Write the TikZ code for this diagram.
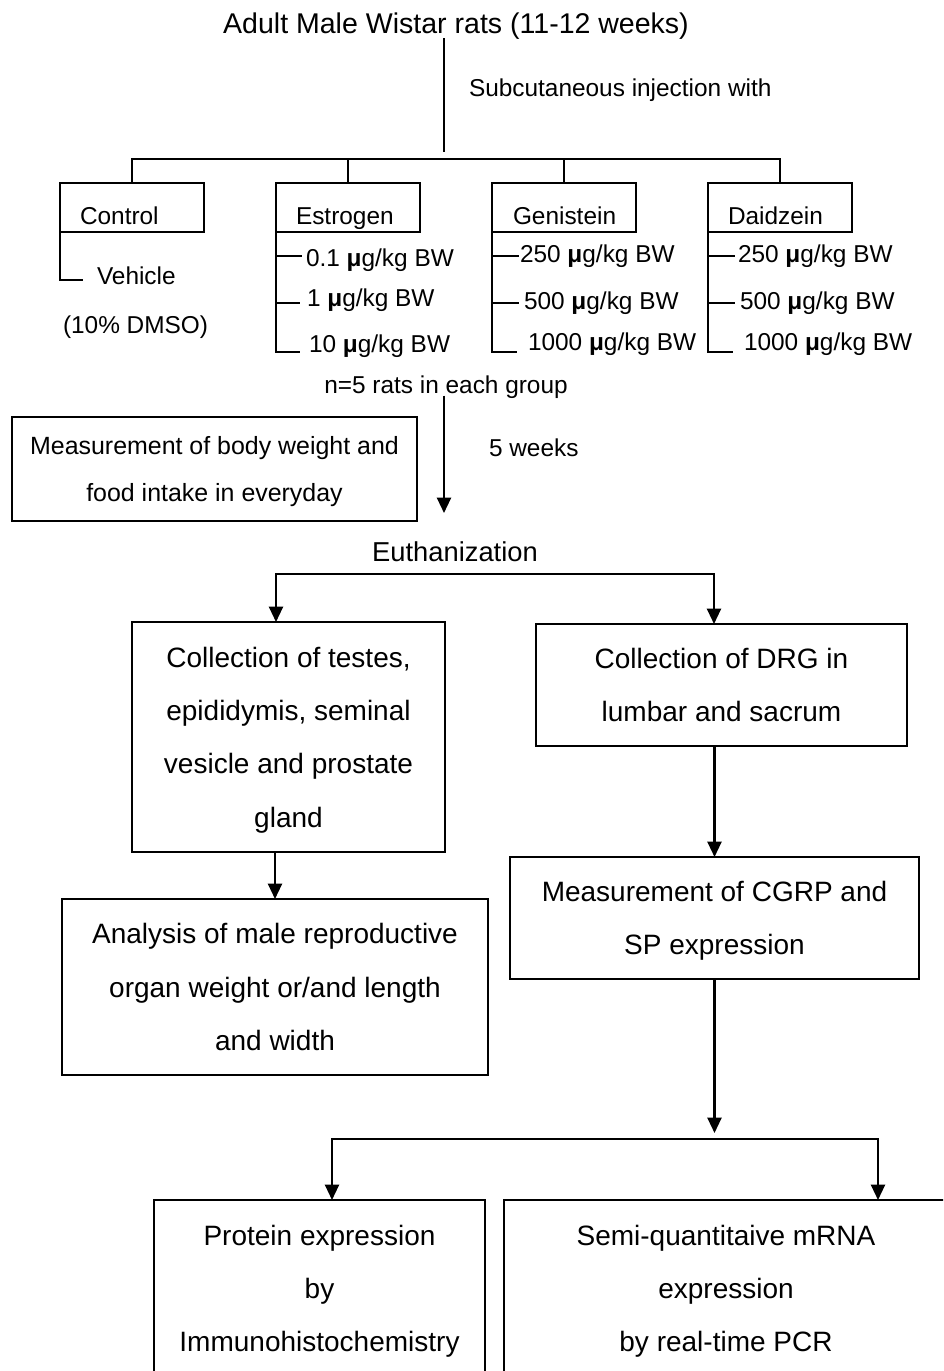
\documentclass[tikz,border=0pt]{standalone}
\usepackage{fontspec}
\setmainfont{Liberation Sans}
\usetikzlibrary{arrows.meta}
\newcommand{\szTitle}{\fontsize{21.4}{25}\selectfont}
\newcommand{\szGrp}{\fontsize{18.3}{22}\selectfont}
\newcommand{\szMeas}{\fontsize{18.7}{35}\selectfont}
\newcommand{\szBig}{\fontsize{21}{40}\selectfont}
\newcommand{\szEuth}{\fontsize{20.5}{24}\selectfont}
\newcommand{\mug}{{\bfseries μ}g/kg BW}
\newcommand{\bst}{\rule[-5pt]{0pt}{25pt}}
\newcommand{\mst}{\rule[-5pt]{0pt}{23.4pt}}
\begin{document}
\begin{tikzpicture}[x=0.75pt,y=-0.75pt,
  thinline/.style={line width=1.1pt},
  lbl/.style={inner sep=0pt, outer sep=0pt, text height=13pt, text depth=0pt, font=\szGrp},
  grp/.style={draw, line width=1.1pt, inner sep=0pt, outer sep=0pt, minimum width=108pt, minimum height=36.75pt},
  box/.style={draw, line width=1.5pt, inner sep=0pt, outer sep=0pt, align=center, font=\szBig},
  arr/.style={line width=1.6pt, -{Triangle[length=11.5pt,width=10.5pt]}}]
\useasboundingbox (0,0) rectangle (943,1371);
\clip (0,0) rectangle (943,1371);

% title and stem
\node[font=\szTitle, inner sep=0pt, inner ysep=3.5pt, text height=15.3pt, text depth=0pt] (title) at (456,23) {Adult Male Wistar rats (11-12 weeks)};
\coordinate (stem) at (444,152);
\draw[thinline] (title.south -| stem) -- (stem);
\node[lbl, anchor=west] (sub) at (469,88) {Subcutaneous injection with};

% group boxes
\node[grp] (ctl) at (132,207.5) {};
\node[grp] (est) at (348,207.5) {};
\node[grp] (gen) at (564,207.5) {};
\node[grp] (dai) at (780,207.5) {};
\node[lbl, anchor=west] (ctlt) at (80,216) {Control};
\node[lbl, anchor=west] (estt) at (296,216) {Estrogen};
\node[lbl, anchor=west] (gent) at (513,216) {Genistein};
\node[lbl, anchor=west] (dait) at (728,216) {Daidzein};
\draw[thinline] (ctl.north) -- ++(0,-24) -| (dai.north);
\draw[thinline] (est.north) -- ++(0,-24);
\draw[thinline] (gen.north) -- ++(0,-24);

% control
\node[lbl, anchor=west] (veh) at (97,276) {Vehicle};
\node[lbl, anchor=west] (dmso) at (63,325) {(10\% DMSO)};
\draw[thinline] (ctl.south west) |- ([shift={(-14,4)}]veh.west);

% estrogen
\node[lbl, anchor=west] (e1) at (306,258) {0.1 \mug};
\node[lbl, anchor=west] (e2) at (307,298) {1 \mug};
\node[lbl, anchor=west] (e3) at (309,344) {10 \mug};
\draw[thinline] (est.south west) |- ([shift={(-4,-2)}]e1.west);
\draw[thinline] (est.south west) |- ([shift={(-7,5)}]e2.west);
\draw[thinline] (est.south west) |- ([shift={(-9,8)}]e3.west);

% genistein
\node[lbl, anchor=west] (g1) at (520,254) {250 \mug};
\node[lbl, anchor=west] (g2) at (524,301) {500 \mug};
\node[lbl, anchor=west] (g3) at (528,342) {1000 \mug};
\draw[thinline] (gen.south west) |- ([shift={(-1,2)}]g1.west);
\draw[thinline] (gen.south west) |- ([shift={(-5,2)}]g2.west);
\draw[thinline] (gen.south west) |- ([shift={(-11,10)}]g3.west);

% daidzein
\node[lbl, anchor=west] (d1) at (738,254) {250 \mug};
\node[lbl, anchor=west] (d2) at (740,301) {500 \mug};
\node[lbl, anchor=west] (d3) at (744,342) {1000 \mug};
\draw[thinline] (dai.south west) |- ([shift={(-3,2)}]d1.west);
\draw[thinline] (dai.south west) |- ([shift={(-5,2)}]d2.west);
\draw[thinline] (dai.south west) |- ([shift={(-11,10)}]d3.west);

% n=5 and 5 weeks
\node[lbl, inner ysep=1.5pt] (n5) at (446,385) {n=5 rats in each group};
\node[lbl, anchor=west] (wk) at (489,448) {5 weeks};
\node[box, font=\szMeas, minimum width=303.75pt, minimum height=78pt] (meas) at (214.5,469) {\mst Measurement of body weight and\\\mst food intake in everyday};
\coordinate (a5) at (444,513);
\draw[arr] (n5.south -| a5) -- (a5);
\node[lbl, font=\szEuth, text height=14.7pt] (euth) at (455,552) {Euthanization};

% second level
\node[box, minimum width=234.75pt, minimum height=172.5pt] (coll) at (288.5,737) {\bst Collection of testes,\\epididymis, seminal\\vesicle and prostate\\\bst gland};
\node[box, minimum width=278.25pt, minimum height=91.5pt] (drg) at (721.5,685) {\bst Collection of DRG in\\\bst lumbar and sacrum};
\coordinate (el) at (276,574);
\coordinate (er) at (714,574);
\draw[arr] (er) -- (el) -- (el |- coll.north);
\draw[arr] (el) -- (er) -- (er |- drg.north);

\node[box, minimum width=319.5pt, minimum height=132pt] (ana) at (275,987) {\bst Analysis of male reproductive\\organ weight or/and length\\\bst and width};
\node[box, minimum width=306.75pt, minimum height=91.5pt] (cgrp) at (714.5,918) {\bst Measurement of CGRP and\\\bst SP expression};
\draw[arr] (coll.south -| ana.north) -- (ana.north);
\draw[arr] (drg.south -| cgrp.north) -- (cgrp.north);

% bottom level
\node[box, minimum width=248.25pt, minimum height=132.75pt] (pro) at (319.5,1288.5) {\bst Protein expression\\by\\\bst Immunohistochemistry};
\node[box, minimum width=333pt, minimum height=132.75pt] (sem) at (726,1288.5) {\bst Semi-quantitaive mRNA\\expression\\\bst by real-time PCR};
\coordinate (hl) at (332,1139);
\coordinate (hr) at (878,1139);
\draw[arr, shorten >=4.5pt] (cgrp.south) -- (cgrp.south |- hl);
\draw[arr] (hr) -- (hl) -- (hl |- pro.north);
\draw[arr] (hl) -- (hr) -- (hr |- sem.north);
\end{tikzpicture}
\end{document}
